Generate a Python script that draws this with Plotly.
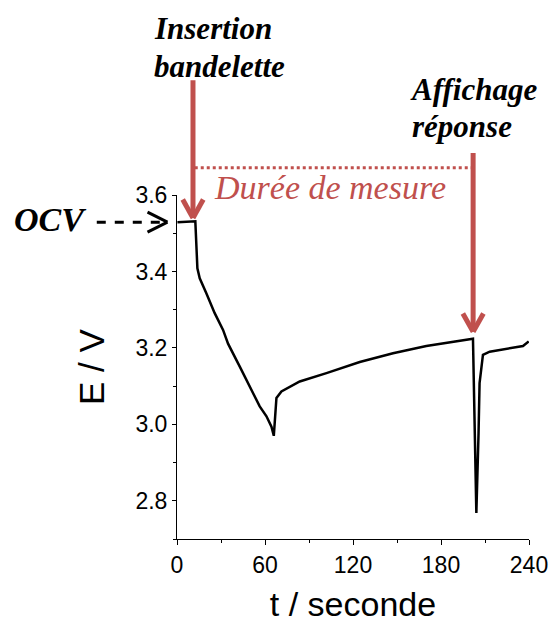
import plotly.graph_objects as go

# ---------------------------------------------------------
# Data (t in s, E in V)
# ---------------------------------------------------------
t_s = [0.3, 12.5, 13.9, 15.5, 20.0, 25.7, 31.4, 33.7, 34.8, 42.8, 49.6, 56.4,
       61.0, 64.4, 66.0, 67.8, 71.2, 83.7, 101.9, 124.6, 147.3, 170.0, 201.8,
       204.1, 205.6, 206.3, 208.6, 213.2, 235.9, 239.8]
e_v = [3.529, 3.531, 3.408, 3.382, 3.343, 3.291, 3.247, 3.221, 3.211, 3.151,
       3.099, 3.047, 3.021, 2.994, 2.970, 3.069, 3.086, 3.112, 3.134, 3.163,
       3.186, 3.205, 3.224, 2.768, 2.977, 3.108, 3.182, 3.190, 3.205, 3.217]

x_ticks = [0, 60, 120, 180, 240]
y_ticks = [2.8, 3.0, 3.2, 3.4, 3.6]

X_RANGE = [0, 240]
Y_RANGE = [2.7, 3.6]

RED = "#C0504D"
SERIF = "Liberation Serif"
SANS = "Liberation Sans"


# data units -> paper units (for decorations drawn outside the plot)
def px(t):
    return (t - X_RANGE[0]) / (X_RANGE[1] - X_RANGE[0])


def py(v):
    return (v - Y_RANGE[0]) / (Y_RANGE[1] - Y_RANGE[0])


fig = go.Figure()

fig.add_trace(
    go.Scatter(
        x=t_s,
        y=e_v,
        mode="lines",
        line=dict(color="black", width=2.5),
        showlegend=False,
        hoverinfo="skip",
    )
)

shapes = []


def seg(x0, y0, x1, y1, color, width, dash="solid"):
    shapes.append(
        dict(type="line", xref="paper", yref="paper",
             x0=px(x0), y0=py(y0), x1=px(x1), y1=py(y1),
             line=dict(color=color, width=width, dash=dash))
    )


def down_arrow(t, v_top, v_tip, color):
    seg(t, v_top, t, v_tip + 0.005, color, 5)
    seg(t - 7.0, v_tip + 0.048, t, v_tip, color, 5)
    seg(t + 7.0, v_tip + 0.048, t, v_tip, color, 5)


# red arrows
down_arrow(10.9, 3.900, 3.540, RED)
down_arrow(201.9, 3.710, 3.242, RED)

# dotted measuring span
seg(12.1, 3.671, 201.6, 3.671, RED, 3, "dot")

# OCV dashed arrow
seg(-54.7, 3.529, -6.5, 3.529, "black", 3, "dash")
seg(-20.1, 3.555, -6.5, 3.529, "black", 3)
seg(-20.1, 3.503, -6.5, 3.529, "black", 3)

annotations = []


def label(t, v, text, color="black", size=33):
    annotations.append(
        dict(x=px(t), y=py(v), xref="paper", yref="paper", text=text,
             showarrow=False, xanchor="left", yanchor="middle",
             font=dict(family=SERIF, size=size, color=color, style="italic"))
    )


label(-17.2, 4.035, "<b>Insertion</b>", size=31)
label(-17.2, 3.935, "<b>bandelette</b>", size=31)
label(157.3, 3.875, "<b>Affichage</b>", size=31)
label(158.6, 3.780, "<b>réponse</b>", size=31)
label(-112.7, 3.535, "<b>OCV</b>", size=34)
label(23.7, 3.620, "Durée de mesure", color=RED, size=34)

fig.update_layout(
    width=555,
    height=625,
    margin=dict(l=177, r=26, t=195, b=86),
    plot_bgcolor="white",
    paper_bgcolor="white",
    shapes=shapes,
    annotations=annotations,
    xaxis=dict(
        range=X_RANGE,
        tickvals=x_ticks,
        automargin=False,
        showgrid=False,
        zeroline=False,
        showline=True,
        linecolor="black",
        linewidth=1,
        ticks="outside",
        ticklen=5,
        tickcolor="black",
        minor=dict(dtick=30, ticks="outside", ticklen=3, tickcolor="black"),
        tickfont=dict(family=SANS, size=23, color="black"),
        title=dict(text="t / seconde", font=dict(family=SANS, size=34, color="black"),
                   standoff=15),
    ),
    yaxis=dict(
        range=Y_RANGE,
        tickvals=y_ticks,
        tickformat=".1f",
        automargin=False,
        showgrid=False,
        zeroline=False,
        showline=True,
        linecolor="black",
        linewidth=1,
        ticks="outside",
        ticklen=4,
        tickcolor="black",
        minor=dict(dtick=0.1, ticks="outside", ticklen=3, tickcolor="black"),
        tickfont=dict(family=SANS, size=23, color="black"),
        title=dict(text="E / V", font=dict(family=SANS, size=35, color="black"),
                   standoff=20),
    ),
)

# the page's default body margin would shift the figure by 8 px
fig.write_html(
    "out.html",
    config={"displayModeBar": False},
    post_script="document.body.style.margin = '0';",
)
